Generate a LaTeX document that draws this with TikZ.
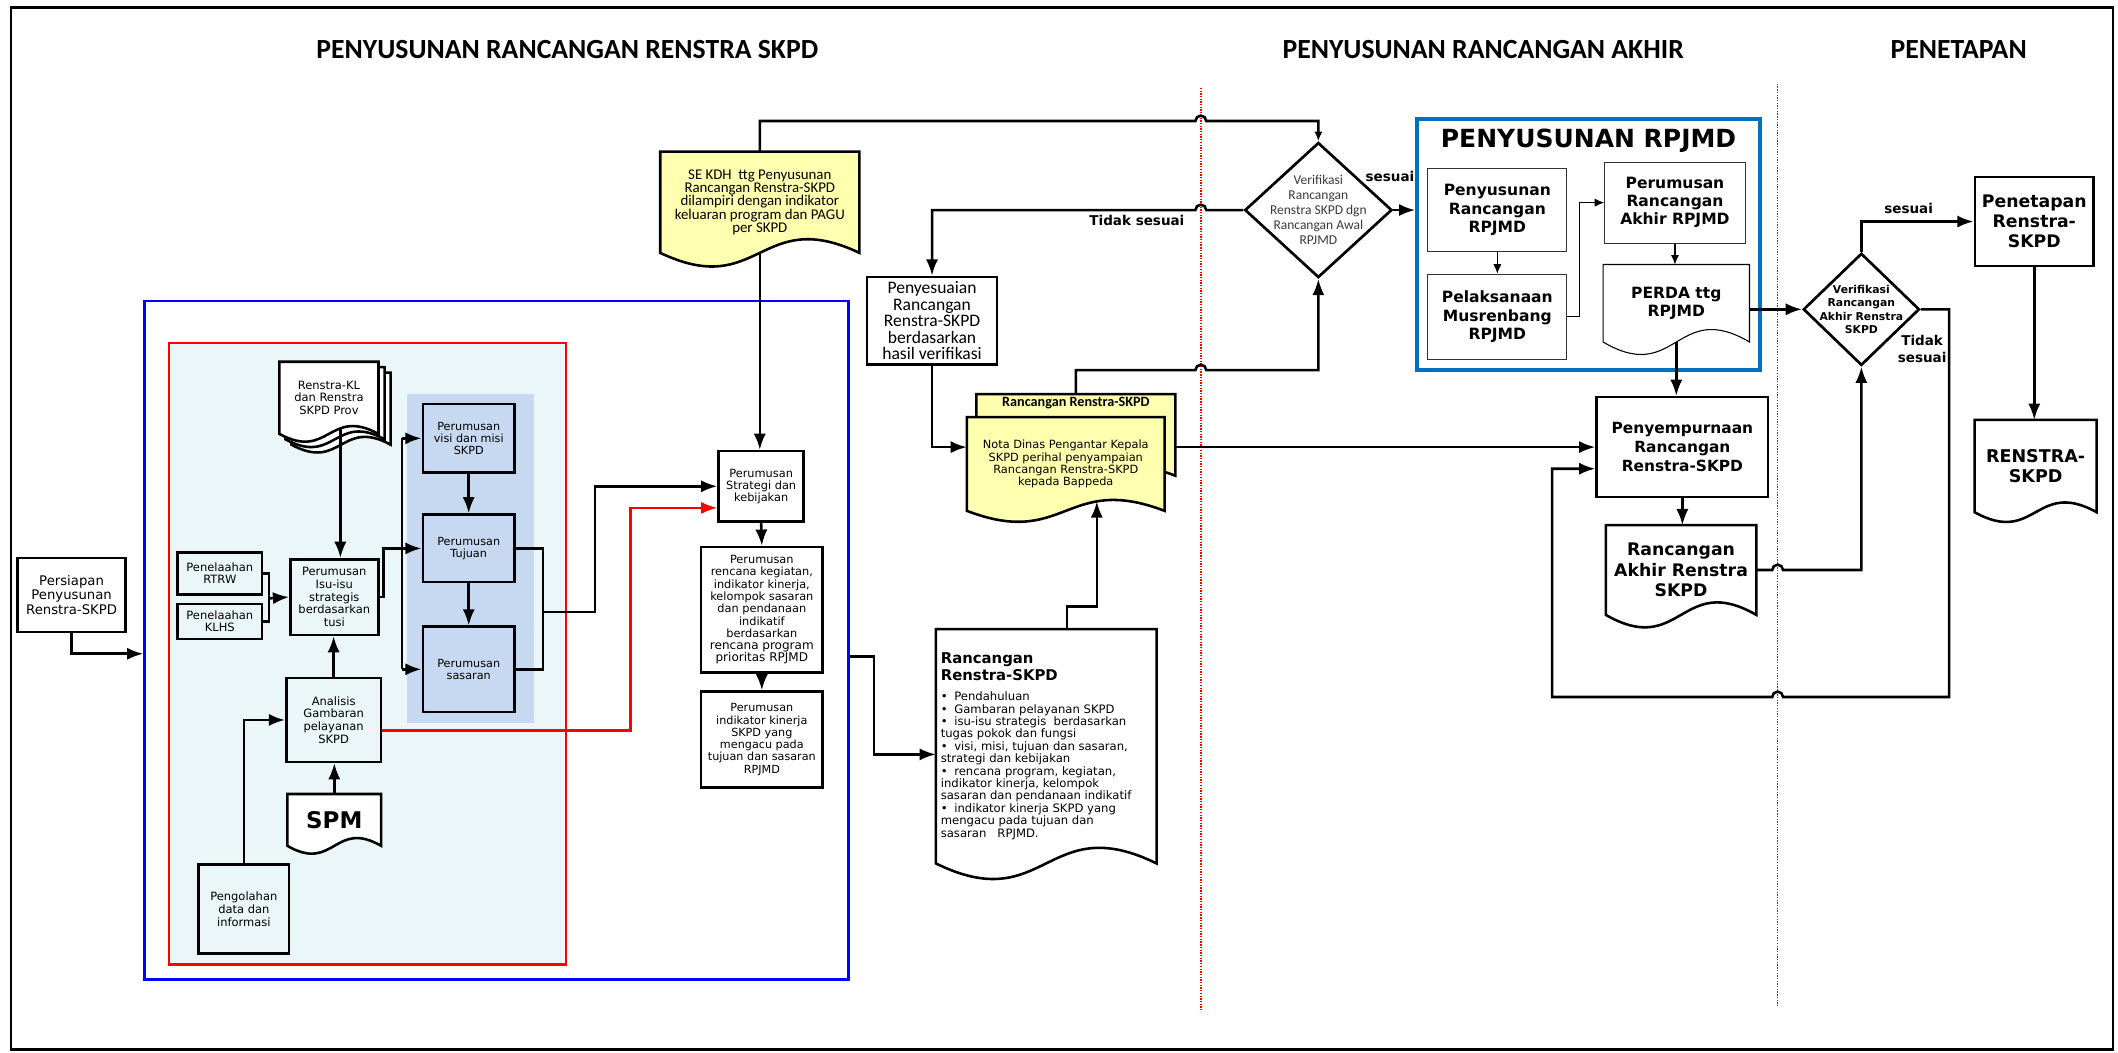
\documentclass[tikz,border=0pt]{standalone}
\usepackage{fontspec}
\setmainfont{DejaVu Sans}
\newfontfamily\calib{Carlito}
\usetikzlibrary{arrows.meta,calc,positioning,shapes.geometric,backgrounds}
\definecolor{frameblue}{HTML}{0000FF}
\definecolor{rpjblue}{HTML}{0070C0}
\definecolor{panelcyan}{HTML}{EBF6F8}
\definecolor{panelblue}{HTML}{C6D9F1}
\definecolor{noteyellow}{HTML}{FFFFB0}
\definecolor{inkgray}{HTML}{3A3A3A}
\newcommand{\fs}[2]{\fontsize{#1}{#2}\selectfont}
\newcommand{\itm}{\par\noindent\hangindent=10pt\hangafter=1\makebox[10pt][l]{\textbullet}}
% document outline: style, node, wave, offset
\newcommand{\docshape}[4]{%
  \path[#1] ($(#2.north west)+#4$) -- ($(#2.north east)+#4$) -- ($(#2.south east)+#4$)
    .. controls ($(#2.south)+#4+(0,-#3)$) and ($(#2.south)+#4+(0,#3)$) .. ($(#2.south west)+#4$) -- cycle;}
\tikzset{
  box/.style={draw,line width=1.9pt,align=center,inner sep=1pt},
  rpjbox/.style={draw=black!80,line width=0.8pt,align=center,inner sep=1pt,font=\bfseries\fs{11.5}{13.5}},
  docnode/.style={align=center,inner sep=1pt},
  docline/.style={draw,line width=1.9pt,fill=white},
  decision/.style={diamond,draw,line width=2pt,align=center,inner sep=-14pt},
  wire/.style={line width=1.9pt},
  conn/.style={wire,-{Latex[length=12pt,width=9pt]}},
  thinconn/.style={line width=0.8pt,-{Latex[length=7pt,width=6pt]}},
  divider/.style={red,densely dotted,line width=1pt},
  phase/.style={font=\calib\bfseries\fs{20.5}{24}},
  flag/.style={font=\bfseries\fs{10}{12.5},inner sep=1pt,align=center},
}
\begin{document}
\begin{tikzpicture}[x=1pt,y=-1pt]
\useasboundingbox (0,0) rectangle (1568,779);
\draw[line width=1.6pt] (8,5.5) rectangle (1564,777);

% phase titles
\node[phase] (ttlA) at (420,37) {PENYUSUNAN RANCANGAN RENSTRA SKPD};
\node[phase] (ttlB) at (1098,37) {PENYUSUNAN RANCANGAN AKHIR};
\node[phase] (ttlC) at (1450,37) {PENETAPAN};
\draw[divider] (889,65) -- (889,748);
\draw[divider] (1316,62) -- (1316,745);

% panels
\begin{scope}[on background layer]
  \draw[red,line width=1.6pt,fill=panelcyan] (125,254) rectangle (419,714);
  \fill[panelblue] (301,292) rectangle (395,535);
\end{scope}
\node[draw=frameblue,line width=1.8pt,minimum width=521pt,minimum height=502pt] (bluefr) at (367.5,474) {};
\node[draw=rpjblue,line width=2.6pt,minimum width=254pt,minimum height=186pt] (rpjmdfr) at (1176,181) {};
\node[font=\bfseries\fs{18.5}{20}] (rpjtitle) at (1176,104) {PENYUSUNAN RPJMD};

% left column
\node[box,minimum width=80pt,minimum height=55pt,font=\fs{9.8}{10.5}] (prep) at (53,440.5) {Persiapan\\Penyusunan\\Renstra-SKPD};
\node[docnode,minimum width=73pt,minimum height=53pt,font=\fs{8.5}{9.4}] (renkl) at (243.5,294.5) {Renstra-KL\\dan Renstra\\SKPD Prov};
\node[box,minimum width=62.5pt,minimum height=31pt,font=\fs{8.5}{8.7}] (rtrw) at (162.75,424.5) {Penelaahan\\RTRW};
\node[box,minimum width=62.5pt,minimum height=26pt,font=\fs{8.5}{8.7}] (klhs) at (162.75,460) {Penelaahan\\KLHS};
\node[box,minimum width=65pt,minimum height=56pt,font=\fs{8.5}{9.4}] (isu) at (247.5,442) {Perumusan\\Isu-isu\\strategis\\berdasarkan\\tusi};
\node[box,minimum width=70pt,minimum height=62pt,font=\fs{8.5}{9.4}] (analisis) at (247,533) {Analisis\\Gambaran\\pelayanan\\SKPD};
\node[docnode,minimum width=69pt,minimum height=38pt,font=\bfseries\fs{17}{17}] (spm) at (247.5,607) {SPM};
\node[box,minimum width=67pt,minimum height=66pt,font=\fs{8.5}{9.4}] (pengolahan) at (180.5,673) {Pengolahan\\data dan\\informasi};
\node[box,minimum width=68pt,minimum height=51pt,font=\fs{8.3}{8.9}] (visi) at (347,324.5) {Perumusan\\visi dan misi\\SKPD};
\node[box,minimum width=68pt,minimum height=50pt,font=\fs{8.3}{8.9}] (tujuan) at (347,406) {Perumusan\\Tujuan};
\node[box,minimum width=68pt,minimum height=63pt,font=\fs{8.3}{8.9}] (sasaran) at (347,495.5) {Perumusan\\sasaran};

% strategy column
\node[docnode,minimum width=147pt,minimum height=74.5pt,font=\calib\fs{11}{9.8}] (sekdh) at (562.5,149.75) {SE KDH\ \ ttg Penyusunan\\Rancangan Renstra-SKPD\\dilampiri dengan indikator\\keluaran program dan PAGU\\per SKPD};
\node[box,minimum width=63pt,minimum height=52pt,font=\fs{8.4}{8.9}] (strategi) at (563.5,360) {Perumusan\\Strategi dan\\kebijakan};
\node[box,minimum width=90pt,minimum height=93pt,font=\fs{8.4}{9.1}] (rencana) at (564,451.5) {Perumusan\\rencana kegiatan,\\indikator kinerja,\\kelompok sasaran\\dan pendanaan\\indikatif\\berdasarkan\\{\fs{8.9}{9.4}rencana program}\\{\fs{8.9}{9.4}prioritas RPJMD}};
\node[box,minimum width=90pt,minimum height=71pt,font=\fs{8.3}{9.1}] (indikator) at (564,547.5) {Perumusan\\indikator kinerja\\SKPD yang\\mengacu pada\\tujuan dan sasaran\\RPJMD};

% draft documents
\node[box,minimum width=96pt,minimum height=65pt,font=\calib\fs{13}{12.2}] (penyes) at (690,237.5) {Penyesuaian\\Rancangan\\Renstra-SKPD\\berdasarkan\\hasil verifikasi};
\node[docnode,minimum width=147pt,minimum height=60pt,
  label={[font=\calib\bfseries\fs{10.5}{12},anchor=north,inner sep=2pt]north:Rancangan Renstra-SKPD}] (backdoc) at (796.5,322) {};
\node[docnode,minimum width=146pt,minimum height=69pt,font=\fs{8.4}{9}] (nota) at (789,343.5) {Nota Dinas Pengantar Kepala\\SKPD perihal penyampaian\\Rancangan Renstra-SKPD\\kepada Bappeda};
\node[docnode,inner sep=0pt,minimum width=163pt,minimum height=173pt] (rdoc) at (774.5,552.5) {\begin{minipage}{156pt}\raggedright
{\bfseries\fs{11}{12}Rancangan\\Renstra-SKPD\par}
\vspace{6pt}%
\fs{8.6}{9.2}%
\itm Pendahuluan
\itm Gambaran pelayanan SKPD
\itm isu-isu strategis\ \ berdasarkan\\tugas pokok dan fungsi
\itm visi, misi, tujuan dan sasaran,\\strategi dan kebijakan
\itm rencana program, kegiatan,\\indikator kinerja, kelompok\\sasaran dan pendanaan indikatif
\itm indikator kinerja SKPD yang\\mengacu pada tujuan dan\\sasaran\ \ \ RPJMD.\par
\end{minipage}};

% verification and RPJMD
\node[decision,minimum width=109pt,minimum height=100pt,font=\calib\fs{10}{11},text=inkgray] (ver1) at (976,155.5) {Verifikasi\\Rancangan\\Renstra SKPD dgn\\Rancangan Awal\\RPJMD};
\node[rpjbox,minimum width=103pt,minimum height=61pt] (penyrp) at (1108.5,155.5) {Penyusunan\\Rancangan\\RPJMD};
\node[rpjbox,minimum width=103pt,minimum height=63pt] (pelak) at (1108.5,234.5) {Pelaksanaan\\Musrenbang\\RPJMD};
\node[rpjbox,minimum width=104pt,minimum height=60pt] (akhrp) at (1240,150) {Perumusan\\Rancangan\\Akhir RPJMD};
\node[docnode,minimum width=108pt,minimum height=57pt,font=\bfseries\fs{11.5}{13.5}] (perda) at (1241,224.5) {PERDA ttg\\RPJMD};

% final stage
\node[box,minimum width=127pt,minimum height=74pt,font=\bfseries\fs{11.4}{14}] (pnyp) at (1245.5,331) {Penyempurnaan\\Rancangan\\Renstra-SKPD};
\node[docnode,minimum width=111pt,minimum height=66pt,font=\bfseries\fs{12.8}{15}] (akhr) at (1244.5,422) {Rancangan\\Akhir Renstra\\SKPD};
\node[decision,minimum width=86pt,minimum height=83pt,font=\bfseries\fs{8}{10}] (ver2) at (1378,229) {Verifikasi\\Rancangan\\Akhir Renstra\\SKPD};
\node[box,minimum width=88pt,minimum height=66pt,font=\bfseries\fs{12.8}{15}] (penetapan) at (1506,164) {Penetapan\\Renstra-\\SKPD};
\node[docnode,minimum width=90pt,minimum height=68pt,font=\bfseries\fs{13}{15}] (rstr) at (1507,345) {RENSTRA-\\SKPD};

% labels
\node[flag,anchor=north east] (lblno1) at (878,158) {Tidak sesuai};
\node[flag] (lblyes1) at (1029,131) {sesuai};
\node[flag] (lblyes2) at (1413,154) {sesuai};
\node[flag] (lblno2) at (1423,258.5) {Tidak\\sesuai};

% document outlines
\begin{scope}[on background layer]
  \docshape{docline}{renkl}{20}{(9,8)}
  \docshape{docline}{renkl}{20}{(4.5,4)}
  \docshape{docline}{renkl}{20}{(0,0)}
  \docshape{docline}{spm}{20}{(0,0)}
  \docshape{docline,fill=noteyellow}{sekdh}{35}{(0,0)}
  \docshape{docline,fill=noteyellow}{backdoc}{28}{(0,0)}
  \docshape{docline,fill=noteyellow}{nota}{28}{(0,0)}
  \docshape{docline}{rdoc}{40}{(0,0)}
  \docshape{docline,line width=0.8pt}{perda}{32}{(0,0)}
  \docshape{docline}{rstr}{25}{(0,0)}
  \docshape{docline}{akhr}{32}{(0,0)}
\end{scope}

% helper points
\coordinate (pjoin) at (199,443);
\coordinate (lbus) at (297.5,406);
\coordinate (rmid) at (402,453);
\coordinate (klfoot) at ($(renkl.south)+(8.5,-4)$);
\coordinate (notatip) at ($(nota.south)+(23,-7)$);
\coordinate (hopA) at (885,89.6);
\coordinate (hopB) at (893,155.5);
\coordinate (hopC) at (885,274);
\coordinate (hopD) at (1312,422);
\coordinate (hopE) at (1320,516);
\coordinate (loopR) at (1443,516);
\coordinate (loopL) at (1149,516);

% connectors, left panel
\draw[conn] (prep.south) |- ($(bluefr.west)+(0,10)$);
\draw[conn] (klfoot) -- (klfoot |- isu.north);
\draw[wire] (rtrw.east) -| (pjoin) |- (klhs.east);
\draw[conn] (pjoin) -- (isu.west);
\draw[conn] (analisis.north) -- (analisis.north |- isu.south);
\draw[conn] (spm.north) -- (spm.north |- analisis.south);
\draw[conn] (pengolahan.north) |- (analisis.west);
\draw[conn] (isu.east) -- ++(3,0) |- (tujuan.west);
\draw[wire] (lbus |- visi.west) -- (lbus |- sasaran.west);
\draw[conn] (lbus |- visi.west) -- (visi.west);
\draw[conn] (lbus |- sasaran.west) -- (sasaran.west);
\draw[conn] (visi.south) -- (tujuan.north);
\draw[conn] (tujuan.south) -- (sasaran.north);
\draw[wire] (tujuan.east) -| (rmid) |- (sasaran.east);
\draw[conn] (rmid) -- ++(38.5,0) |- (strategi.west);
\draw[conn,red] ($(analisis.east)+(0,8)$) -- ++(184,0) |- ($(strategi.west)+(0,16)$);
\draw[conn] (sekdh.south) -- (sekdh.south |- strategi.north);
\draw[conn] (strategi.south) -- (rencana.north);
\draw[conn] (rencana.south) -- (indikator.north);

% connectors, verification loop
\draw[wire,-{Latex[length=7pt,width=6pt]}] (sekdh.north) |- (hopA) arc[start angle=180,end angle=360,radius=4] -| (ver1.north);
\draw[conn] (ver1.west) -- (hopB) arc[start angle=0,end angle=-180,radius=4] -| (penyes.north);
\draw[conn] (penyes.south) |- (nota.west |- pnyp.west);
\draw[conn] (backdoc.north) |- (hopC) arc[start angle=180,end angle=360,radius=4] -| (ver1.south);
\draw[conn] (backdoc.east |- pnyp.west) -- (pnyp.west);
\draw[conn] ($(bluefr.east)+(0,12)$) -- ++(18,0) |- ($(rdoc.west)+(0,6)$);
\draw[conn] ($(rdoc.north)+(15.5,0)$) -- ++(0,-17) -| (notatip);
\draw[conn] (ver1.east) -- (ver1.east -| rpjmdfr.west);

% connectors, RPJMD and final stage
\draw[thinconn] (penyrp.south) -- (pelak.north);
\draw[thinconn] (pelak.east) -- ++(9,0) |- (akhrp.west);
\draw[thinconn] (akhrp.south) -- (akhrp.south |- perda.north);
\draw[conn] (perda.east |- ver2.west) -- (ver2.west);
\draw[conn] (perda.south) -- (perda.south |- pnyp.north);
\draw[conn] (pnyp.south) -- (pnyp.south |- akhr.north);
\draw[conn] (akhr.east) -- (hopD) arc[start angle=180,end angle=360,radius=4] -| (ver2.south);
\draw[conn] (ver2.north) |- (penetapan.west);
\draw[conn] (penetapan.south) -- (penetapan.south |- rstr.north);
\draw[conn] (ver2.east) -| (loopR) -- (hopE) arc[start angle=0,end angle=-180,radius=4] -- (loopL) |- ($(pnyp.west)+(0,16)$);
\end{tikzpicture}
\end{document}
